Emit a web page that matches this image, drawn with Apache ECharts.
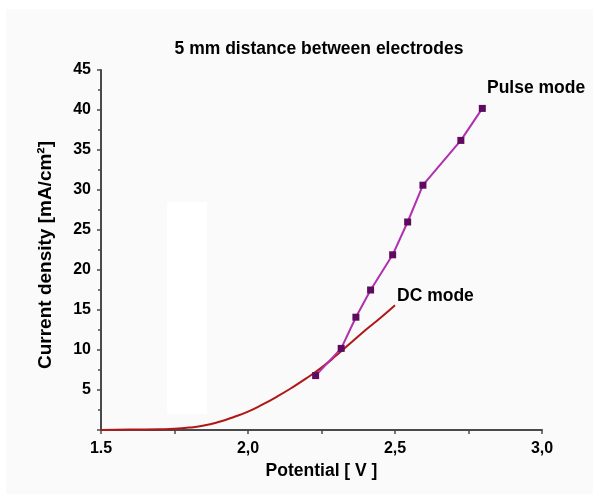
<!DOCTYPE html>
<html>
<head>
<meta charset="utf-8">
<script src="https://cdn.jsdelivr.net/npm/echarts@6/dist/echarts.min.js"></script>
<style>
  html, body { margin: 0; padding: 0; background: #ffffff; }
  #chart { width: 593px; height: 494px; }
</style>
</head>
<body>
<div id="chart"></div>
<script>
// Pulse mode measurements: potential (V) and current density (mA/cm2)
const pulseV = [2.23, 2.317, 2.367, 2.417, 2.492, 2.543, 2.595, 2.724, 2.797];
const pulseJ = [6.8, 10.2, 14.1, 17.5, 21.9, 26.0, 30.6, 36.2, 40.2];

// DC mode polarisation curve
const dcV = [1.50, 1.60, 1.70, 1.75, 1.80, 1.85, 1.90, 1.95, 2.00, 2.05, 2.10, 2.15, 2.20, 2.25, 2.30, 2.35, 2.40, 2.45, 2.50];
const dcJ = [0.0, 0.05, 0.1, 0.15, 0.3, 0.55, 1.0, 1.6, 2.3, 3.2, 4.2, 5.3, 6.5, 7.8, 9.3, 10.9, 12.5, 14.0, 15.6];

const xTickLabels = { '1.5': '1.5', '2': '2,0', '2.5': '2,5', '3': '3,0' };

const FONT = '"Liberation Sans", Arial, sans-serif';

const chart = echarts.init(document.getElementById('chart'), null, { renderer: 'canvas' });

const option = {
  backgroundColor: '#ffffff',
  animation: false,
  grid: { left: 101, right: 51, top: 70, bottom: 64 },
  graphic: [
    { type: 'rect', z: -10, silent: true,
      shape: { x: 6, y: 9, width: 600, height: 500 },
      style: { fill: '#fafafa' } },
    { type: 'rect', z: -9, silent: true,
      shape: { x: 167, y: 202, width: 40, height: 212 },
      style: { fill: '#ffffff' } },
    { type: 'text', x: 319, y: 49,
      style: { text: '5 mm distance between electrodes', font: 'bold 17.5px ' + FONT, fill: '#000',
               textAlign: 'center', textVerticalAlign: 'middle' } },
    { type: 'text', x: 487, y: 88,
      style: { text: 'Pulse mode', font: 'bold 17.5px ' + FONT, fill: '#000',
               textAlign: 'left', textVerticalAlign: 'middle' } },
    { type: 'text', x: 397, y: 296,
      style: { text: 'DC mode', font: 'bold 17.5px ' + FONT, fill: '#000',
               textAlign: 'left', textVerticalAlign: 'middle' } },
    { type: 'text', x: 46, y: 255, rotation: Math.PI / 2,
      style: { text: 'Current density [mA/cm²]', font: 'bold 19px ' + FONT, fill: '#000',
               textAlign: 'center', textVerticalAlign: 'middle' } }
  ],
  xAxis: {
    type: 'value',
    min: 1.5, max: 3.0, interval: 0.5,
    name: 'Potential [ V ]',
    nameLocation: 'middle',
    nameGap: 27,
    nameTextStyle: { fontFamily: FONT, fontWeight: 'bold', fontSize: 17.5, color: '#000' },
    axisLine: { onZero: false, lineStyle: { color: '#4a4a4a', width: 2 } },
    axisTick: { show: true, length: 4, lineStyle: { color: '#4a4a4a', width: 1.5 } },
    minorTick: { show: true, splitNumber: 2, length: 4, lineStyle: { color: '#4a4a4a', width: 1.5 } },
    splitLine: { show: false },
    axisLabel: {
      fontFamily: FONT, fontWeight: 'bold', fontSize: 16, color: '#000', margin: 11,
      formatter: v => xTickLabels[String(v)] || ''
    }
  },
  yAxis: {
    type: 'value',
    min: 0, max: 45, interval: 5,
    axisLine: { show: true, lineStyle: { color: '#4a4a4a', width: 2 } },
    axisTick: { show: true, length: 4, lineStyle: { color: '#4a4a4a', width: 1.5 } },
    minorTick: { show: true, splitNumber: 2, length: 3, lineStyle: { color: '#4a4a4a', width: 1.5 } },
    splitLine: { show: false },
    axisLabel: {
      fontFamily: FONT, fontWeight: 'bold', fontSize: 16, color: '#000', margin: 10,
      formatter: v => (v === 0 ? '' : String(v))
    }
  },
  series: [
    {
      name: 'DC mode',
      type: 'line',
      smooth: true,
      showSymbol: false,
      data: dcV.map((v, i) => [v, dcJ[i]]),
      lineStyle: { color: '#b01818', width: 2 },
      z: 2
    },
    {
      name: 'Pulse mode',
      type: 'line',
      data: pulseV.map((v, i) => [v, pulseJ[i]]),
      symbol: 'rect',
      symbolSize: 7,
      lineStyle: { color: '#b030b0', width: 2 },
      itemStyle: { color: '#5e0a5e', borderWidth: 0 },
      z: 3
    }
  ]
};

chart.setOption(option);
</script>
</body>
</html>
